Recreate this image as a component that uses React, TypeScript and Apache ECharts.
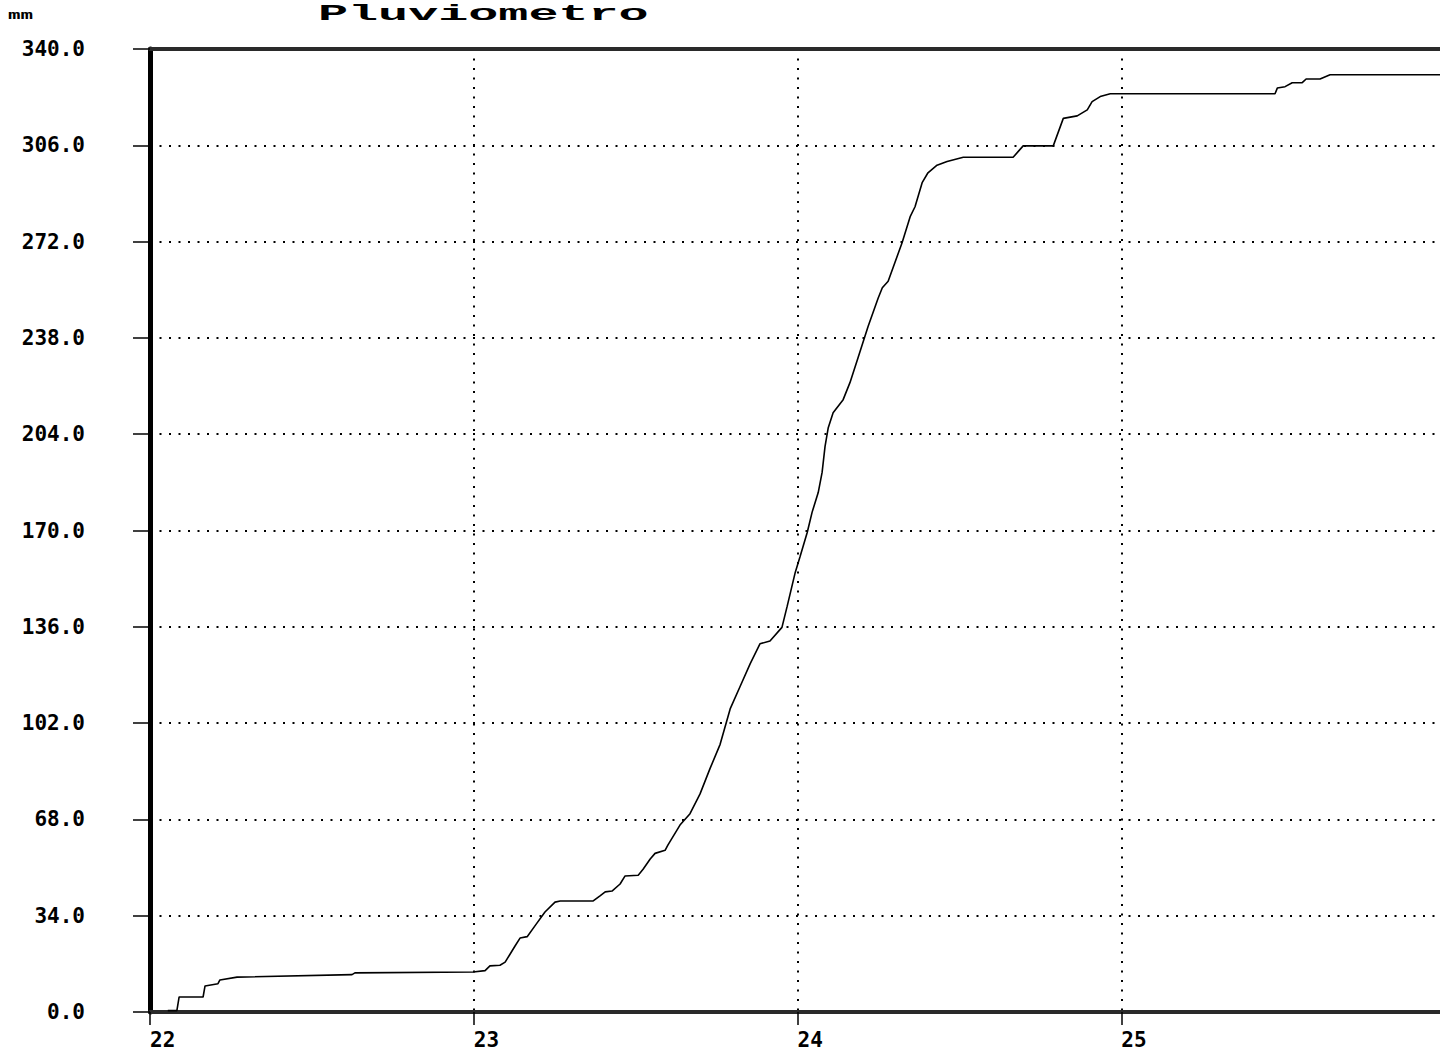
import React, { useEffect, useRef } from "react";
import * as echarts from "echarts";

// Rain gauge accumulation (mm) vs day
const days = [
  22.055, 22.083, 22.09, 22.164, 22.17, 22.21, 22.216, 22.269, 22.624, 22.633,
  22.998, 23.035, 23.05, 23.081, 23.097, 23.112, 23.128, 23.143, 23.165, 23.189,
  23.22, 23.251, 23.267, 23.369, 23.39, 23.406, 23.427, 23.452, 23.467, 23.508,
  23.523, 23.545, 23.56, 23.591, 23.6, 23.637, 23.668, 23.699, 23.73, 23.761,
  23.792, 23.823, 23.854, 23.884, 23.915, 23.952, 23.968, 23.993, 24.008, 24.03,
  24.045, 24.064, 24.076, 24.085, 24.095, 24.11, 24.141, 24.162, 24.187, 24.218,
  24.249, 24.262, 24.28, 24.323, 24.348, 24.363, 24.385, 24.403, 24.431, 24.462,
  24.512, 24.666, 24.697, 24.79, 24.821, 24.864, 24.895, 24.91, 24.935, 24.966,
  25.475, 25.482, 25.506, 25.528, 25.559, 25.571, 25.614, 25.645, 26.0,
];
const rainMm = [
  0.5, 0.5, 5.3, 5.3, 9.2, 10, 11.3, 12.3, 13.2, 13.8,
  14.1, 14.6, 16.3, 16.5, 17.6, 20.4, 23.4, 26.1, 26.6, 30.4,
  35.3, 38.8, 39.2, 39.2, 41, 42.4, 42.7, 45.2, 48, 48.3,
  50.4, 54, 56, 57.1, 59, 66, 70, 77, 86, 94.5,
  107, 115, 123, 130, 131, 135.8, 143.2, 155.2, 160.8, 169.3,
  176.4, 183.4, 190.5, 199.6, 206.3, 211.6, 216.2, 222.2, 231, 242,
  252, 255.7, 258, 271.6, 280.8, 284.3, 292.8, 296.3, 299, 300.3,
  301.8, 301.8, 305.8, 305.8, 315.5, 316.4, 318.5, 321.4, 323.2, 324.2,
  324.2, 326.2, 326.7, 328.1, 328.1, 329.4, 329.4, 330.9, 330.9,
];
const xMin = 22;
const xMax = 26;
const xStep = 1;
const yMin = 0;
const yMax = 340;
const yStep = 34;
const titleText = "Pluviometro";
const unitText = "mm";

const FONT = "'DejaVu Sans Mono', monospace";

export default function App() {
  const ref = useRef<HTMLDivElement>(null);
  useEffect(() => {
    if (!ref.current) return;
    const chart = echarts.init(ref.current, undefined, { renderer: "svg" });
    const seriesData = days.map((d, i) => [d, rainMm[i]]);
    chart.setOption({
      animation: false,
      backgroundColor: "#ffffff",
      grid: { left: 150, top: 49, right: 35, bottom: 35, containLabel: false },
      xAxis: [
        {
          type: "value",
          min: xMin,
          max: xMax,
          interval: xStep,
          position: "bottom",
          axisLine: { show: true, onZero: false, lineStyle: { color: "#2a2a2a", width: 4 } },
          axisTick: { show: true, length: 13, lineStyle: { color: "#000", width: 1.5 } },
          axisLabel: {
            show: true,
            showMaxLabel: false,
            align: "left",
            margin: 17,
            color: "#000",
            fontFamily: FONT,
            fontWeight: "bold",
            fontSize: 21,
            formatter: (v: number) => String(v),
          },
          splitLine: { show: true, lineStyle: { color: "#000", width: 2, type: [2, 7.5] } },
        },
        {
          type: "value",
          min: xMin,
          max: xMax,
          interval: xStep,
          position: "top",
          axisLine: { show: true, onZero: false, lineStyle: { color: "#2a2a2a", width: 4 } },
          axisTick: { show: false },
          axisLabel: { show: false },
          splitLine: { show: false },
        },
      ],
      yAxis: {
        type: "value",
        min: yMin,
        max: yMax,
        interval: yStep,
        axisLine: { show: true, onZero: false, lineStyle: { color: "#000", width: 5 } },
        axisTick: { show: true, length: 17, lineStyle: { color: "#000", width: 1.5 } },
        axisLabel: {
          show: true,
          margin: 65,
          color: "#000",
          fontFamily: FONT,
          fontWeight: "bold",
          fontSize: 21,
          padding: [0, 0, 10, 0],
          formatter: (v: number) => v.toFixed(1),
        },
        splitLine: { show: true, lineStyle: { color: "#000", width: 2, type: [2, 7.5] } },
      },
      graphic: [
        {
          type: "text",
          x: 318,
          y: 3,
          scaleX: 1.67,
          scaleY: 0.75,
          style: {
            text: titleText,
            fontFamily: "'Liberation Mono', monospace",
            fontWeight: "bold",
            fontSize: 30,
            fill: "#000",
            verticalAlign: "top",
            align: "left",
          },
        },
        {
          type: "text",
          x: 8,
          y: 8,
          scaleX: 1.6,
          style: {
            text: unitText,
            fontFamily: FONT,
            fontWeight: "bold",
            fontSize: 13,
            fill: "#000",
            verticalAlign: "top",
            align: "left",
          },
        },
      ],
      series: [
        {
          type: "line",
          data: seriesData,
          showSymbol: false,
          symbol: "none",
          clip: true,
          lineStyle: { color: "#000", width: 1.6 },
          z: 5,
        },
      ],
    });
    return () => chart.dispose();
  }, []);
  return (
    <div
      style={{
        position: "fixed",
        left: 0,
        top: 0,
        width: 1440,
        height: 1050,
        overflow: "hidden",
        background: "#fff",
      }}
    >
      <div ref={ref} style={{ width: 1480, height: 1050 }} />
    </div>
  );
}
